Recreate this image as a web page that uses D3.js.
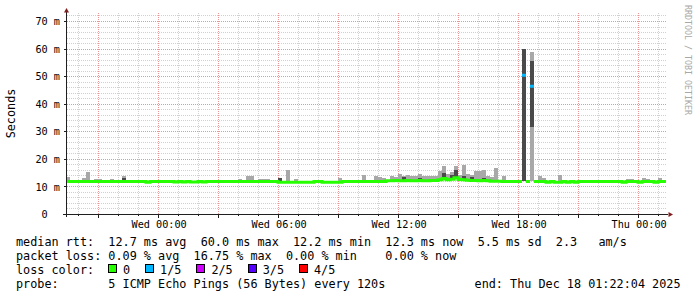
<!DOCTYPE html>
<html>
<head>
<meta charset="utf-8">
<script src="https://cdn.jsdelivr.net/npm/d3@7"></script>
<style>
  body { margin: 0; background: #fff; }
  svg { display: block; font-family: "DejaVu Sans Mono", monospace; }
  .pre { white-space: pre; }
</style>
</head>
<body>
<svg id="chart" width="697" height="297"></svg>
<script>
// time window of the graph (30 h, 12 min per column block)
const startTime = Date.UTC(2025, 11, 16, 19, 22, 4);
const endTime = Date.UTC(2025, 11, 18, 1, 22, 4);
const stepMs = 12 * 60 * 1000;

// median rtt in ms, one value per 12 min
const medianRtt = [
  12.0,12.0,12.0,12.0,12.0,12.0,12.0,12.0,12.0,12.0,12.0,12.0,12.0,12.0,12.0,
  12.0,12.0,12.0,12.0,12.0,11.7,12.0,12.0,12.0,12.0,12.0,12.0,11.8,12.0,11.8,
  12.0,11.8,11.8,12.0,11.8,12.0,12.0,12.0,12.0,12.0,12.0,12.0,12.0,12.0,12.0,
  12.0,12.0,12.0,12.0,12.0,12.0,12.0,12.0,11.7,11.7,11.7,11.7,11.7,11.7,11.7,
  11.7,11.7,12.0,12.0,11.7,11.7,11.7,11.7,11.7,12.0,12.0,12.0,12.0,12.0,12.0,
  12.0,12.0,12.0,12.0,12.0,12.2,12.2,12.3,12.2,12.2,12.3,12.2,12.2,12.3,12.2,
  12.2,12.3,12.3,12.6,13.1,12.6,12.8,13.3,12.7,12.6,12.4,12.3,12.3,12.2,12.3,
  12.2,12.1,12.1,12.1,12.0,12.0,12.0,12.0,12.0,50.5,12.0,46.5,12.0,12.0,12.0,
  11.7,12.0,11.7,11.7,12.0,11.7,12.0,11.7,12.0,12.0,12.0,12.0,12.0,12.0,12.0,
  12.0,12.0,12.0,12.0,11.7,12.0,12.0,12.0,11.7,12.0,12.0,12.0,11.7,12.0,12.0
];

// [column, lost pings of 5]
const lossCount = [[114, 1], [116, 1]];

// outer smoke: [column, highest ping ms, lowest ping ms (optional)]
const smokeOuter = [
  [0,13.5],[4,13.2],[5,15.5],[7,13.0],[8,13.0],[11,13.0],[14,13.8],
  [43,13.0],[45,14.0],[46,13.8],[48,13.0],[49,13.0],[50,13.0],
  [53,13.4],[55,16.2],[57,13.0],[68,13.4],[74,14.4],[77,13.8],[78,13.5],[79,13.3],
  [81,13.8],[82,13.5],[83,14.8],[84,14.0],[85,14.4],[86,13.8],[87,13.8],[88,14.6],
  [89,14.0],[90,14.0],[91,13.8],[92,13.8],[93,15.6],[94,17.7],[95,14.8],[96,15.5],
  [97,17.5],[98,14.4],[99,18.0],[100,14.8],[101,14.4],[102,15.6],[103,15.6],[104,16.0],
  [105,13.8],[106,13.5],[107,17.0],[109,14.0],
  [114,60.2,12.0],[116,59.0,12.0],
  [118,13.8],[119,13.3],[123,14.4],[140,13.0],[141,13.0],[144,13.4],[145,13.0],[148,13.4]
];

// inner smoke: [column, 4th ping ms, 2nd ping ms (optional)]
const smokeInner = [
  [14,13.2],[53,13.4],[84,13.6],[88,13.4],
  [94,15.0],[96,14.4],[97,16.2],[99,14.0],[101,13.6],[104,13.4],
  [114,60.0,12.0],[116,55.6,31.9]
];

const lossLabels = ["0", "1/5", "2/5", "3/5", "4/5"];
const lossColors = ["#26ff00", "#00b8ff", "#d000ff", "#5500ff", "#ff0000"];

const legendLines = [
  "median rtt:  12.7 ms avg  60.0 ms max  12.2 ms min  12.3 ms now  5.5 ms sd  2.3   am/s",
  "packet loss: 0.09 % avg  16.75 % max  0.00 % min    0.00 % now"
];
const probeText = "probe:       5 ICMP Echo Pings (56 Bytes) every 120s";
const endText = "end: Thu Dec 18 01:22:04 2025";

const svg = d3.select("#chart");

const x = d3.scaleUtc().domain([startTime, endTime]).range([66, 666]);
const y = d3.scaleLinear().domain([0, 73]).range([214.5, 214.5 - 73 * 2.757]);

const colStart = (i) => x(startTime + i * stepMs);
const colEnd = (i) => x(startTime + (i + 1) * stepMs);
const crisp = (v) => Math.floor(v) + 0.5;

const plotLeft = 66.5, plotBottom = 214.5;

// grid: dotted lines built from 1px dashes
const hours = d3.utcHour.every(1).range(new Date(startTime), new Date(endTime));
function dotsH(yy) {
  let d = "";
  for (let px = 67; px < 667; px += 2) d += "M" + px + "," + yy + "h1";
  return d;
}
function dotsV(xx) {
  let d = "";
  for (let py = 13; py < 214; py += 2) d += "M" + xx + "," + py + "v1";
  return d;
}
let minorPath = "", majorPath = "";
for (let v = 2; v <= 72; v += 2) {
  if (v % 10 === 0) majorPath += dotsH(crisp(y(v)));
  else minorPath += dotsH(crisp(y(v)));
}
hours.forEach(h => {
  if (h.getUTCHours() % 3 === 0) majorPath += dotsV(crisp(x(h)));
  else minorPath += dotsV(crisp(x(h)));
});
svg.append("path").attr("d", minorPath).attr("stroke", "rgba(143,143,143,0.42)")
  .attr("shape-rendering", "crispEdges");
svg.append("path").attr("d", majorPath).attr("stroke", "rgba(222,80,80,0.6)")
  .attr("shape-rendering", "crispEdges");

// smoke
const smoke = svg.append("g").attr("shape-rendering", "crispEdges");
function drawSmoke(list, color) {
  smoke.selectAll(null).data(list).enter().append("rect")
    .attr("x", d => colStart(d[0]))
    .attr("width", d => colEnd(d[0]) - colStart(d[0]))
    .attr("y", d => y(d[1]))
    .attr("height", d => y(d.length > 2 ? d[2] : medianRtt[d[0]]) - y(d[1]))
    .attr("fill", color);
}
drawSmoke(smokeOuter, "#a8a8a8");
drawSmoke(smokeInner, "#4a4a4a");

// median line, coloured by loss
const lossOf = new Map(lossCount);
const pts = [];
medianRtt.forEach((v, i) => {
  const l = lossOf.get(i) || 0;
  pts.push({ t: startTime + i * stepMs, v: v, loss: l });
  pts.push({ t: startTime + (i + 1) * stepMs, v: v, loss: l });
});
lossColors.forEach((c, k) => {
  if (!pts.some(p => p.loss === k)) return;
  const line = d3.line()
    .defined(p => p.loss === k)
    .x(p => x(p.t))
    .y(p => y(p.v));
  svg.append("path")
    .attr("d", line(pts))
    .attr("fill", "none")
    .attr("stroke", c)
    .attr("stroke-width", 3);
});

// axes
const axis = svg.append("g").attr("shape-rendering", "crispEdges").attr("stroke", "#1f1f1f");
axis.append("line").attr("x1", plotLeft).attr("x2", plotLeft).attr("y1", 12).attr("y2", 217);
axis.append("line").attr("x1", 63).attr("x2", 668).attr("y1", plotBottom).attr("y2", plotBottom);
for (let v = 0; v <= 72; v += 2) {
  const len = v % 10 === 0 ? 3 : 1;
  axis.append("line").attr("x1", plotLeft - len).attr("x2", plotLeft)
    .attr("y1", crisp(y(v))).attr("y2", crisp(y(v)));
}
hours.forEach(h => {
  const len = h.getUTCHours() % 3 === 0 ? 3 : 1;
  axis.append("line").attr("x1", crisp(x(h))).attr("x2", crisp(x(h)))
    .attr("y1", plotBottom).attr("y2", plotBottom + len);
});
svg.append("path").attr("d", "M64,12.5L69,12.5L66.5,8Z").attr("fill", "#7f1f1f");
svg.append("path").attr("d", "M668.5,212L668.5,217L673,214.5Z").attr("fill", "#7f1f1f");

// tick labels
const yTicks = d3.range(0, 71, 10);
svg.selectAll(null).data(yTicks).enter().append("text")
  .attr("x", d => d === 0 ? 60 - 2 * 6.14 : 60)
  .attr("y", d => y(d) + 3.7)
  .attr("text-anchor", "end")
  .attr("font-size", "10.2px")
  .text(d => d === 0 ? "0" : d + " m");

const fmtX = d3.utcFormat("%a %H:%M");
svg.selectAll(null).data(hours.filter(h => h.getUTCHours() % 6 === 0)).enter().append("text")
  .attr("x", d => x(d) + 0.5)
  .attr("y", 227.5)
  .attr("text-anchor", "middle")
  .attr("font-size", "10.2px")
  .text(d => fmtX(d));

// unit + watermark
svg.append("text")
  .attr("transform", "translate(15,113.5) rotate(-90)")
  .attr("text-anchor", "middle")
  .attr("font-size", "11.8px")
  .text("Seconds");
svg.append("text")
  .attr("transform", "translate(684.5,5) rotate(90)")
  .attr("font-size", "8.3px")
  .attr("fill", "#a8a8a8")
  .text("RRDTOOL / TOBI OETIKER");

// legend
const charW = 7.1;
legendLines.forEach((s, i) => {
  svg.append("text").attr("class", "pre")
    .attr("x", 16).attr("y", 245.5 + i * 14)
    .attr("font-size", "11.8px")
    .text(s);
});
svg.append("text").attr("class", "pre")
  .attr("x", 16).attr("y", 273.5).attr("font-size", "11.8px")
  .text("loss color:");
let lx = 108;
lossLabels.forEach((lab, k) => {
  svg.append("rect")
    .attr("x", lx + 0.5).attr("y", 264.5).attr("width", 8).attr("height", 8)
    .attr("fill", lossColors[k]).attr("stroke", "#000")
    .attr("shape-rendering", "crispEdges");
  svg.append("text")
    .attr("x", lx + 15).attr("y", 273.5).attr("font-size", "11.8px")
    .text(lab);
  lx += 15 + lab.length * charW + 15;
});
svg.append("text").attr("class", "pre")
  .attr("x", 16).attr("y", 287.5).attr("font-size", "11.8px")
  .text(probeText);
svg.append("text")
  .attr("x", 680.5).attr("y", 287.5).attr("text-anchor", "end").attr("font-size", "11.8px")
  .text(endText);
</script>
</body>
</html>
